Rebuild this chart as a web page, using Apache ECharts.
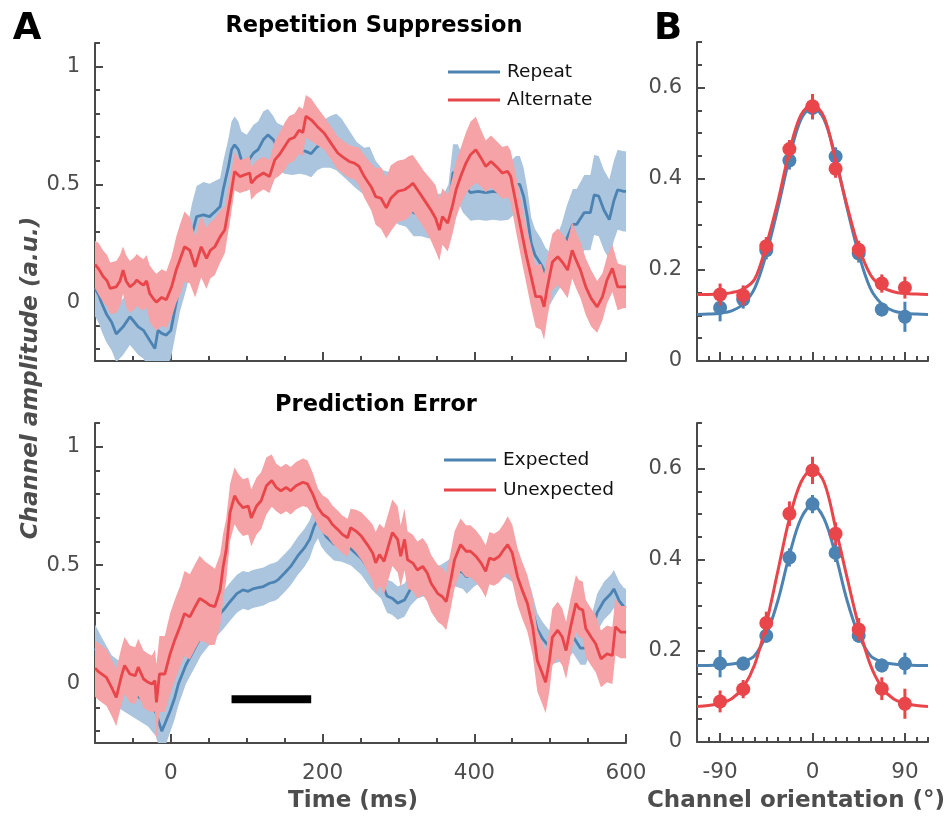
<!DOCTYPE html>
<html><head><meta charset="utf-8">
<script src="https://cdn.jsdelivr.net/npm/echarts@6/dist/echarts.min.js"></script>
<style>html,body{margin:0;padding:0;background:#fff}#c{width:950px;height:818px}</style>
</head><body><div id="c"></div>
<script>
// ---------- Panel A top: Repetition Suppression ----------
const tRepeat = [-100,-95,-91,-85,-78,-72,-63,-54,-50,-43,-36,-28,-21,-17,-12,-6,0,6,12,20,28,34,43,51,58,65,69,76,80,84,89,93,100,109,115,122,128,135,140,150,160,170,178,185,193,200,210,218,225,235,245,255,262,270,280,290,300,310,320,330,340,350,360,366,372,378,385,395,405,415,425,435,445,455,460,465,470,475,480,488,494,500,507,515,522,530,535,545,553,558,564,571,578,584,589,597,600];
const vRepeat = [0.06,0.03,-0.006,-0.05,-0.085,-0.135,-0.105,-0.062,-0.077,-0.105,-0.12,-0.162,-0.197,-0.12,-0.133,-0.14,-0.12,-0.02,0.08,0.17,0.29,0.363,0.37,0.363,0.384,0.406,0.477,0.576,0.647,0.668,0.647,0.604,0.59,0.633,0.647,0.69,0.71,0.69,0.66,0.645,0.64,0.645,0.64,0.63,0.66,0.67,0.68,0.68,0.66,0.62,0.58,0.555,0.56,0.5,0.46,0.45,0.43,0.42,0.38,0.37,0.36,0.37,0.37,0.4,0.55,0.55,0.5,0.465,0.47,0.465,0.47,0.465,0.47,0.5,0.5,0.45,0.36,0.25,0.2,0.16,0.12,0.1,0.15,0.2,0.27,0.33,0.33,0.38,0.38,0.455,0.45,0.39,0.35,0.43,0.477,0.47,0.47];
const eRepeat = [0.12,0.12,0.12,0.12,0.12,0.12,0.12,0.12,0.12,0.12,0.12,0.13,0.13,0.13,0.13,0.13,0.12,0.12,0.12,0.12,0.13,0.13,0.14,0.14,0.13,0.12,0.12,0.12,0.12,0.12,0.12,0.12,0.12,0.12,0.12,0.12,0.11,0.1,0.1,0.1,0.1,0.1,0.1,0.1,0.1,0.1,0.11,0.12,0.12,0.11,0.1,0.1,0.1,0.1,0.1,0.1,0.1,0.1,0.1,0.09,0.09,0.09,0.09,0.1,0.12,0.12,0.12,0.12,0.12,0.12,0.12,0.12,0.12,0.12,0.12,0.12,0.12,0.11,0.11,0.11,0.11,0.11,0.12,0.13,0.14,0.15,0.15,0.16,0.16,0.17,0.17,0.17,0.17,0.17,0.17,0.17,0.17];

const tAlternate = [-100,-95,-89,-84,-80,-72,-67,-63,-59,-54,-48,-45,-40,-36,-32,-28,-22,-19,-12,-6,1,7,12,18,25,32,40,47,52,58,65,71,78,84,91,97,104,106,113,122,130,137,143,150,156,163,169,174,178,185,193,202,211,220,226,235,242,248,255,264,270,277,284,290,299,308,314,319,325,334,343,349,354,358,365,371,376,382,389,395,402,409,415,422,431,437,444,448,455,461,468,474,481,488,492,496,503,510,516,523,529,534,540,547,554,562,569,575,582,589,597,600];
const vAlternate = [0.16,0.14,0.108,0.09,0.058,0.065,0.09,0.136,0.09,0.065,0.08,0.094,0.08,0.072,0.09,0.037,0.01,0.0,0.02,0.01,0.065,0.136,0.18,0.235,0.22,0.15,0.235,0.186,0.22,0.235,0.278,0.306,0.434,0.555,0.533,0.54,0.548,0.505,0.53,0.548,0.533,0.604,0.626,0.661,0.69,0.70,0.73,0.72,0.789,0.774,0.746,0.718,0.675,0.633,0.618,0.597,0.59,0.576,0.533,0.49,0.448,0.441,0.40,0.441,0.47,0.477,0.49,0.505,0.477,0.434,0.39,0.356,0.306,0.363,0.335,0.406,0.477,0.533,0.59,0.626,0.647,0.611,0.576,0.597,0.569,0.548,0.555,0.533,0.42,0.32,0.207,0.122,0.023,0.023,-0.02,0.058,0.17,0.193,0.17,0.136,0.22,0.18,0.136,0.065,0.016,-0.02,0.023,0.094,0.143,0.065,0.065,0.065];
const eAlternate = [0.1,0.11,0.11,0.11,0.11,0.11,0.11,0.1,0.11,0.11,0.11,0.11,0.11,0.11,0.11,0.12,0.12,0.12,0.12,0.12,0.13,0.14,0.15,0.15,0.14,0.13,0.13,0.13,0.12,0.12,0.11,0.1,0.09,0.08,0.07,0.07,0.07,0.07,0.07,0.07,0.07,0.08,0.09,0.1,0.1,0.1,0.1,0.1,0.09,0.09,0.08,0.07,0.07,0.07,0.07,0.07,0.07,0.08,0.09,0.1,0.12,0.13,0.13,0.14,0.13,0.13,0.13,0.12,0.12,0.12,0.13,0.14,0.13,0.12,0.12,0.12,0.12,0.12,0.13,0.14,0.14,0.12,0.11,0.11,0.11,0.11,0.11,0.11,0.12,0.12,0.12,0.13,0.13,0.14,0.14,0.13,0.12,0.12,0.12,0.12,0.12,0.12,0.12,0.12,0.12,0.11,0.1,0.1,0.1,0.1,0.09,0.09];

// ---------- Panel A bottom: Prediction Error ----------
const tExpected = [-100,-92,-85,-78,-70,-60,-50,-40,-30,-20,-12,-8,-1,5,10,20,30,40,50,58,65,69,78,87,95,102,108,115,122,130,137,141,150,158,167,176,183,189,194,198,205,215,225,237,251,264,277,285,292,299,308,316,325,335,345,355,365,375,385,390,400,410,420,430,440,450,457,465,475,483,490,500,510,520,530,540,547,554,562,571,580,584,591,597,600];
const vExpected = [0.15,0.1,0.06,0.02,0.0,-0.02,-0.04,-0.06,-0.08,-0.12,-0.2,-0.17,-0.115,-0.06,0.0,0.08,0.14,0.2,0.24,0.27,0.296,0.31,0.346,0.38,0.396,0.39,0.4,0.405,0.41,0.424,0.43,0.438,0.467,0.495,0.538,0.573,0.609,0.665,0.694,0.66,0.62,0.59,0.585,0.57,0.53,0.47,0.43,0.37,0.36,0.34,0.353,0.40,0.43,0.44,0.43,0.43,0.45,0.48,0.47,0.45,0.48,0.5,0.5,0.5,0.52,0.5,0.45,0.42,0.33,0.23,0.19,0.15,0.16,0.17,0.2,0.15,0.15,0.21,0.3,0.35,0.38,0.4,0.35,0.325,0.32];
const eExpected = [0.1,0.1,0.1,0.1,0.1,0.1,0.1,0.1,0.1,0.1,0.1,0.1,0.09,0.09,0.09,0.08,0.08,0.08,0.08,0.08,0.08,0.08,0.08,0.08,0.08,0.08,0.08,0.08,0.08,0.08,0.08,0.08,0.08,0.08,0.08,0.08,0.08,0.08,0.08,0.08,0.07,0.07,0.07,0.07,0.07,0.07,0.07,0.07,0.07,0.07,0.07,0.07,0.07,0.07,0.07,0.07,0.07,0.07,0.07,0.07,0.07,0.07,0.07,0.07,0.07,0.07,0.07,0.07,0.07,0.07,0.07,0.07,0.07,0.07,0.07,0.07,0.07,0.07,0.08,0.08,0.08,0.08,0.08,0.08,0.08];

const tUnexpected = [-100,-95,-91,-85,-78,-72,-65,-61,-54,-47,-43,-36,-30,-25,-21,-19,-15,-8,-1,5,12,18,25,32,38,45,51,58,65,69,73,78,84,89,95,102,106,113,119,126,133,139,145,152,158,165,174,180,187,194,200,207,213,220,226,233,237,244,251,259,266,270,275,281,288,292,299,303,308,312,319,325,332,338,343,352,358,363,369,374,382,389,395,402,409,415,420,426,433,439,444,450,457,463,470,477,483,490,494,499,503,510,516,521,527,534,538,543,547,554,560,567,575,582,586,593,600];
const vUnexpected = [0.065,0.05,0.041,0.027,-0.016,-0.058,0.034,0.077,0.041,0.034,0.07,0.02,0.006,-0.001,0.013,-0.079,0.041,0.041,0.126,0.183,0.24,0.296,0.282,0.325,0.36,0.346,0.332,0.325,0.396,0.495,0.566,0.722,0.793,0.765,0.743,0.75,0.70,0.75,0.772,0.835,0.857,0.828,0.814,0.828,0.814,0.835,0.85,0.843,0.80,0.743,0.715,0.70,0.672,0.651,0.63,0.616,0.658,0.644,0.623,0.587,0.552,0.51,0.545,0.516,0.594,0.637,0.609,0.538,0.609,0.523,0.509,0.48,0.495,0.467,0.424,0.38,0.367,0.346,0.438,0.523,0.587,0.559,0.559,0.538,0.509,0.474,0.53,0.523,0.538,0.566,0.587,0.552,0.452,0.396,0.339,0.24,0.098,0.041,0.006,0.098,0.197,0.226,0.197,0.14,0.24,0.339,0.318,0.311,0.233,0.197,0.169,0.105,0.126,0.119,0.24,0.218,0.218];
const eUnexpected = [0.12,0.12,0.12,0.12,0.12,0.12,0.12,0.12,0.12,0.12,0.12,0.12,0.12,0.12,0.13,0.16,0.16,0.16,0.17,0.17,0.17,0.18,0.18,0.18,0.18,0.17,0.17,0.16,0.15,0.14,0.13,0.12,0.12,0.12,0.12,0.12,0.12,0.12,0.12,0.12,0.11,0.1,0.1,0.1,0.1,0.1,0.1,0.1,0.09,0.08,0.08,0.08,0.08,0.08,0.08,0.08,0.08,0.09,0.1,0.11,0.12,0.13,0.13,0.14,0.14,0.14,0.14,0.13,0.13,0.12,0.12,0.12,0.12,0.12,0.12,0.12,0.12,0.12,0.12,0.12,0.11,0.11,0.11,0.11,0.11,0.11,0.11,0.11,0.11,0.11,0.12,0.12,0.12,0.12,0.12,0.12,0.13,0.13,0.13,0.13,0.12,0.12,0.12,0.12,0.12,0.12,0.12,0.12,0.12,0.12,0.12,0.12,0.12,0.12,0.12,0.11,0.11];

const sigTimes = [80, 185];
const sigLevel = -0.065;

// ---------- Panel B: channel tuning ----------
const chanX = [-90,-67.5,-45,-22.5,0,22.5,45,67.5,90];
const repeatPts = [0.117,0.135,0.243,0.44,0.555,0.449,0.236,0.113,0.097];
const repeatErr = [0.03,0.02,0.02,0.02,0.025,0.02,0.02,0.015,0.033];
const alternatePts = [0.146,0.144,0.252,0.465,0.559,0.422,0.244,0.17,0.161];
const alternateErr = [0.024,0.022,0.02,0.02,0.027,0.02,0.02,0.02,0.024];
const expectedPts = [0.172,0.172,0.233,0.405,0.522,0.415,0.233,0.168,0.172];
const expectedErr = [0.03,0.015,0.015,0.02,0.02,0.02,0.015,0.015,0.024];
const unexpectedPts = [0.089,0.116,0.261,0.501,0.596,0.457,0.247,0.117,0.084];
const unexpectedErr = [0.024,0.02,0.025,0.027,0.03,0.025,0.025,0.025,0.033];

const fitX = [-112.5,-101.25,-90,-78.75,-67.5,-56.25,-45,-33.75,-22.5,-11.25,0,11.25,22.5,33.75,45,56.25,67.5,78.75,90,101.25,112.5];
const repeatFit = [0.102,0.103,0.105,0.11,0.125,0.16,0.235,0.335,0.445,0.53,0.556,0.53,0.445,0.335,0.235,0.16,0.125,0.11,0.105,0.103,0.102];
const alternateFit = [0.146,0.146,0.147,0.15,0.158,0.18,0.255,0.35,0.46,0.54,0.562,0.535,0.44,0.34,0.25,0.19,0.163,0.152,0.148,0.147,0.146];
const expectedFit = [0.168,0.168,0.169,0.171,0.176,0.19,0.235,0.31,0.41,0.49,0.52,0.49,0.41,0.31,0.235,0.19,0.176,0.171,0.169,0.168,0.168];
const unexpectedFit = [0.078,0.08,0.085,0.095,0.12,0.17,0.26,0.375,0.49,0.57,0.598,0.57,0.47,0.36,0.255,0.17,0.12,0.095,0.085,0.08,0.078];

// tick / label values
const timeLabels = [0, 200, 400, 600];
const ampTicks = [-0.2,-0.1,0,0.1,0.2,0.3,0.4,0.5,0.6,0.7,0.8,0.9,1.0,1.1];
const ampLabels = [0, 0.5, 1];
const orientLabels = [-90, 0, 90];
const tuneLabels = [0, 0.2, 0.4, 0.6];

// ---------- styling ----------
const BLUE = '#4d83b3', RED = '#e8464b';
const BLUE_BAND = '#aac5dd', RED_BAND = '#f5a3a6';
const AX = '#4a4a4a', LBL = '#4d4d4d';
const FONT = '"DejaVu Sans", Verdana, sans-serif';

const chart = echarts.init(document.getElementById('c'), null, {renderer: 'canvas'});

function xMain(g, min, max, interval) {
  return {type:'value', gridIndex:g, min, max, interval, position:'bottom',
    axisLine:{show:true, onZero:false, lineStyle:{color:AX, width:2}},
    axisTick:{show:true, inside:true, length:5, lineStyle:{color:AX, width:2}},
    axisLabel:{show:false}, splitLine:{show:false}};
}
function xMajor(g, min, max, vals, labels) {
  return {type:'value', gridIndex:g, min, max, position:'bottom',
    axisLine:{show:false, onZero:false},
    axisTick:{show:true, inside:true, length:9, customValues:vals, lineStyle:{color:AX, width:2}},
    axisLabel:{show:labels, customValues:vals, margin:19, fontSize:21.5, color:LBL, fontFamily:FONT},
    splitLine:{show:false}};
}
function yMain(g, min, max, tickVals, interval) {
  const a = {type:'value', gridIndex:g, min, max, position:'left',
    axisLine:{show:true, onZero:false, lineStyle:{color:AX, width:2}},
    axisTick:{show:true, inside:true, length:5, lineStyle:{color:AX, width:2}},
    axisLabel:{show:false}, splitLine:{show:false}};
  if (tickVals) a.axisTick.customValues = tickVals;
  if (interval) a.interval = interval;
  return a;
}
function yMajor(g, min, max, vals) {
  return {type:'value', gridIndex:g, min, max, position:'left',
    axisLine:{show:false, onZero:false},
    axisTick:{show:true, inside:true, length:8, customValues:vals, lineStyle:{color:AX, width:2}},
    axisLabel:{show:true, customValues:vals, margin:15, fontSize:21, color:LBL, fontFamily:FONT},
    splitLine:{show:false}};
}

function band(name, xi, t, v, e, color, z) {
  return {type:'custom', name, xAxisIndex:xi, yAxisIndex:xi, clip:true, silent:true, z,
    data: t.map((tt,i)=>[tt, v[i]-e[i], v[i]+e[i]]),
    encode:{x:0, y:[1,2]},
    renderItem: function(params, api) {
      if (params.dataIndex !== 0) return null;
      const up = [], lo = [];
      for (let i = 0; i < t.length; i++) {
        up.push(api.coord([t[i], v[i]+e[i]]));
        lo.push(api.coord([t[i], v[i]-e[i]]));
      }
      return {type:'polygon', shape:{points: up.concat(lo.reverse())}, style:{fill: color}};
    }};
}
function trace(name, xi, t, v, color, z) {
  return {type:'line', name, xAxisIndex:xi, yAxisIndex:xi, showSymbol:false, silent:true, z,
    data: t.map((tt,i)=>[tt, v[i]]), color, lineStyle:{color, width:2.8}};
}
function fit(name, xi, x, v, color, z) {
  return {type:'line', name, xAxisIndex:xi, yAxisIndex:xi, showSymbol:false, smooth:0.35, silent:true, z,
    data: x.map((xx,i)=>[xx, v[i]]), color, lineStyle:{color, width:3}};
}
function errbars(name, xi, x, v, e, color, z) {
  return {type:'custom', name, xAxisIndex:xi, yAxisIndex:xi, silent:true, z,
    data: x.map((xx,i)=>[xx, v[i]-e[i], v[i]+e[i]]),
    encode:{x:0, y:[1,2]},
    renderItem: function(params, api) {
      const p1 = api.coord([api.value(0), api.value(1)]);
      const p2 = api.coord([api.value(0), api.value(2)]);
      return {type:'line', shape:{x1:p1[0], y1:p1[1], x2:p2[0], y2:p2[1]}, style:{stroke:color, lineWidth:3}};
    }};
}
function dots(name, xi, x, v, color, z) {
  return {type:'scatter', name, xAxisIndex:xi, yAxisIndex:xi, symbol:'circle', symbolSize:14, silent:true, z,
    data: x.map((xx,i)=>[xx, v[i]]), itemStyle:{color, opacity:1}};
}

function txt(text, x, y, size, color, style, extra) {
  const o = {type:'text', x, y, silent:true,
    style:{text, font:(style||'') + ' ' + size + 'px ' + FONT, fill:color,
      textAlign:'center', textVerticalAlign:'middle', align:'center', verticalAlign:'middle'}};
  return Object.assign(o, extra || {});
}

const legendText = {fontSize:18.5, color:'#111', fontFamily:FONT, lineHeight:20, padding:[0,0,0,2]};

const option = {
  animation: false,
  backgroundColor: '#fff',
  grid: [
    {left:95, top:43, width:531, height:318},
    {left:95, top:423, width:531, height:320},
    {left:697, top:42, width:231, height:319},
    {left:697, top:423, width:231, height:319}
  ],
  xAxis: [
    xMain(0, -100, 600, 50), xMajor(0, -100, 600, timeLabels, false),
    xMain(1, -100, 600, 50), xMajor(1, -100, 600, timeLabels, true),
    xMain(2, -112.5, 112.5, 11.25), xMajor(2, -112.5, 112.5, orientLabels, false),
    xMain(3, -112.5, 112.5, 11.25), xMajor(3, -112.5, 112.5, orientLabels, true)
  ],
  yAxis: [
    yMain(0, -0.25, 1.1, ampTicks), yMajor(0, -0.25, 1.1, ampLabels),
    yMain(1, -0.25, 1.1, ampTicks), yMajor(1, -0.25, 1.1, ampLabels),
    yMain(2, 0, 0.7, null, 0.05), yMajor(2, 0, 0.7, tuneLabels),
    yMain(3, 0, 0.7, null, 0.05), yMajor(3, 0, 0.7, tuneLabels)
  ],
  legend: [
    {data:['Repeat','Alternate'], left:448, top:62, orient:'vertical', padding:0, icon:'rect',
     itemWidth:52, itemHeight:3, itemGap:8, selectedMode:false, textStyle:legendText},
    {data:['Expected','Unexpected'], left:444, top:450, orient:'vertical', padding:0, icon:'rect',
     itemWidth:52, itemHeight:3, itemGap:10, selectedMode:false, textStyle:legendText}
  ],
  graphic: [
    txt('A', 27, 29, 37, '#000', 'bold'),
    txt('B', 668, 29, 37, '#000', 'bold'),
    txt('Repetition Suppression', 374, 26, 22.5, '#000', 'bold'),
    txt('Prediction Error', 376, 405, 22.5, '#000', 'bold'),
    txt('Channel amplitude (a.u.)', 31, 378, 23, LBL, 'italic bold', {rotation: Math.PI/2}),
    txt('Time (ms)', 353, 801, 23, LBL, 'bold'),
    txt('Channel orientation (°)', 796, 801, 23, LBL, 'bold')
  ],
  series: [
    band('Repeat band', 0, tRepeat, vRepeat, eRepeat, BLUE_BAND, 1),
    trace('Repeat', 0, tRepeat, vRepeat, BLUE, 2),
    band('Alternate band', 0, tAlternate, vAlternate, eAlternate, RED_BAND, 3),
    trace('Alternate', 0, tAlternate, vAlternate, RED, 4),

    band('Expected band', 2, tExpected, vExpected, eExpected, BLUE_BAND, 1),
    trace('Expected', 2, tExpected, vExpected, BLUE, 2),
    band('Unexpected band', 2, tUnexpected, vUnexpected, eUnexpected, RED_BAND, 3),
    trace('Unexpected', 2, tUnexpected, vUnexpected, RED, 4),
    {type:'line', name:'sig', xAxisIndex:2, yAxisIndex:2, showSymbol:false, silent:true, z:6,
     data: sigTimes.map(t=>[t, sigLevel]), lineStyle:{color:'#000', width:8, cap:'butt'}},

    fit('Repeat fit', 4, fitX, repeatFit, BLUE, 2),
    errbars('Repeat err', 4, chanX, repeatPts, repeatErr, BLUE, 3),
    dots('Repeat pts', 4, chanX, repeatPts, BLUE, 4),
    fit('Alternate fit', 4, fitX, alternateFit, RED, 5),
    errbars('Alternate err', 4, chanX, alternatePts, alternateErr, RED, 6),
    dots('Alternate pts', 4, chanX, alternatePts, RED, 7),

    fit('Expected fit', 6, fitX, expectedFit, BLUE, 2),
    errbars('Expected err', 6, chanX, expectedPts, expectedErr, BLUE, 3),
    dots('Expected pts', 6, chanX, expectedPts, BLUE, 4),
    fit('Unexpected fit', 6, fitX, unexpectedFit, RED, 5),
    errbars('Unexpected err', 6, chanX, unexpectedPts, unexpectedErr, RED, 6),
    dots('Unexpected pts', 6, chanX, unexpectedPts, RED, 7)
  ]
};
chart.setOption(option);
</script>
</body></html>
